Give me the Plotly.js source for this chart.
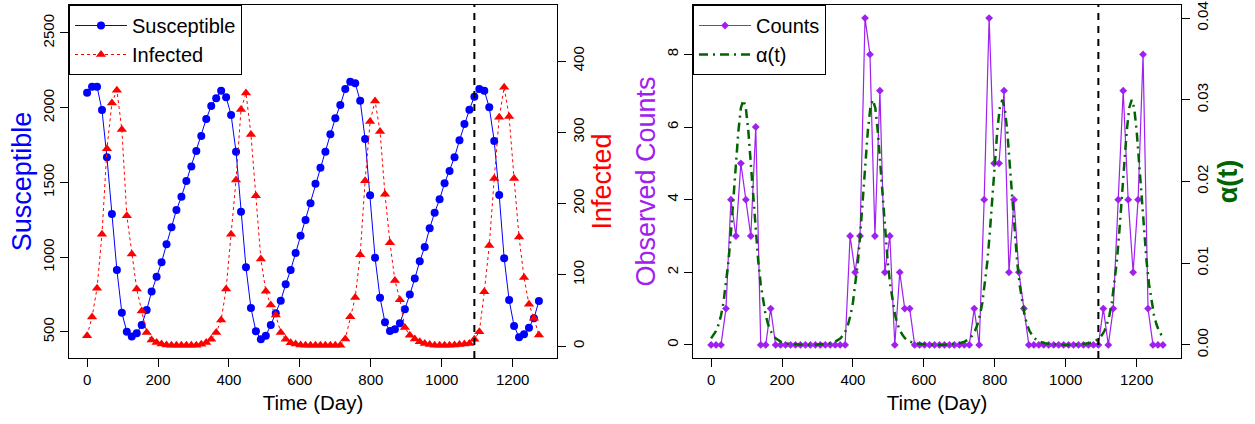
<!DOCTYPE html>
<html><head><meta charset="utf-8">
<script src="https://cdn.plot.ly/plotly-3.0.1.min.js"></script>
<style>html,body{margin:0;padding:0;background:#fff}#chart{width:1255px;height:424px}</style>
</head><body><div id="chart"></div>
<script>
// ---- data ----
const days = [0,14,28,42,56,70,84,98,112,126,140,154,168,182,196,210,224,238,252,266,280,294,308,322,336,350,364,378,392,406,420,434,448,462,476,490,504,518,532,546,560,574,588,602,616,630,644,658,672,686,700,714,728,742,756,770,784,798,812,826,840,854,868,882,896,910,924,938,952,966,980,994,1008,1022,1036,1050,1064,1078,1092,1106,1120,1134,1148,1162,1176,1190,1204,1218,1232,1246,1260,1274];

const susceptible = [2100,2141,2141,1985,1668,1289,915,629,502,469,491,547,647,770,870,966,1087,1200,1316,1405,1510,1606,1711,1811,1925,2012,2063,2114,2070,1952,1706,1305,933,660,505,451,475,547,625,709,819,915,1028,1144,1249,1361,1492,1599,1706,1822,1929,2018,2125,2174,2163,2047,1791,1414,997,729,565,507,518,558,652,750,857,973,1069,1194,1298,1388,1495,1577,1669,1782,1891,1987,2074,2125,2114,2003,1778,1416,993,714,540,465,485,529,592,707];

const infected = [14.5,40.7,81,157,277,341,359,304,183,129,80,49,19,8.4,5,3,1.5,1,1,1,1,1,1,2.5,5,9.4,19,36.5,80,157,233,332,355,297,211,122,77,57.5,43.5,19,9.4,4.7,2.8,1.6,1,1,1,1,1,1,1,1,9.8,41,68,128,232,315,344,301,213,145,92,65,26,15,10,6,3.7,2,1,1,1,1,1.3,2,2.8,3.7,9.4,20,76,141,235,321,363,322,235,153,96,58.5,39,15.4];

const counts = [0,0,0,1,4,3,5,4,3,6,0,0,1,0,0,0,0,0,0,0,0,0,0,0,0,0,0,0,3,2,3,9,8,3,7,2,3,0,2,1,1,0,0,0,0,0,0,0,0,0,0,0,0,1,0,4,9,5,5,7,2,4,2,1,0,0,0,0,0,0,0,0,0,0,0,0,0,0,0,1,0,1,4,7,4,2,4,8,1,0,0,0];

const alphaDays = [0,7,14,21,28,35,42,49,56,63,70,77,84,91,98,105,112,119,126,133,140,147,154,161,168,175,182,196,210,231,252,273,294,315,336,350,
365,372,379,386,393,400,407,414,421,428,435,442,449,456,463,470,477,484,491,498,505,512,519,526,533,540,547,561,575,596,617,638,659,680,701,715,
730,737,744,751,758,765,772,779,786,793,800,807,814,821,828,835,842,849,856,863,870,877,884,891,898,905,912,926,940,961,982,1003,1024,1045,1066,1080,
1095,1102,1109,1116,1123,1130,1137,1144,1151,1158,1165,1172,1179,1186,1193,1200,1207,1214,1221,1228,1235,1242,1249,1256,1263,1270,1277];
const alphaValues = [0.0008,0.0012,0.0017,0.0025,0.0036,0.0052,0.0074,0.0102,0.0138,0.0180,0.0222,0.0262,0.0290,0.0300,0.0290,0.0262,0.0222,0.0180,0.0138,0.0102,0.0074,0.0052,0.0036,0.0025,0.0017,0.0012,0.0008,0.0004,0.0002,0.0001,0.00003,0.0,0.00003,0.0001,0.0002,0.0004,
0.0008,0.0012,0.0017,0.0025,0.0036,0.0052,0.0074,0.0102,0.0138,0.0180,0.0222,0.0262,0.0290,0.0300,0.0290,0.0262,0.0222,0.0180,0.0138,0.0102,0.0074,0.0052,0.0036,0.0025,0.0017,0.0012,0.0008,0.0004,0.0002,0.0001,0.00003,0.0,0.00003,0.0001,0.0002,0.0004,
0.0008,0.0012,0.0017,0.0025,0.0036,0.0052,0.0074,0.0102,0.0138,0.0180,0.0222,0.0262,0.0290,0.0300,0.0290,0.0262,0.0222,0.0180,0.0138,0.0102,0.0074,0.0052,0.0036,0.0025,0.0017,0.0012,0.0008,0.0004,0.0002,0.0001,0.00003,0.0,0.00003,0.0001,0.0002,0.0004,
0.0008,0.0012,0.0017,0.0025,0.0036,0.0052,0.0074,0.0102,0.0138,0.0180,0.0222,0.0262,0.0290,0.0300,0.0290,0.0262,0.0222,0.0180,0.0138,0.0102,0.0074,0.0052,0.0036,0.0025,0.0017,0.0012,0.0008];

const cutoffDay = 1092;
const xTicks = [0,200,400,600,800,1000,1200];
const sTicks = [500,1000,1500,2000,2500];
const iTicks = [0,100,200,300,400];
const cTicks = [0,2,4,6,8];
const aTicks = [0,0.01,0.02,0.03,0.04];
const aTickText = ['0.00','0.01','0.02','0.03','0.04'];

// ---- styling ----
const FONT = 'Liberation Sans, Arial, Helvetica, sans-serif';
const tickFont = {family: FONT, size: 15, color: '#000'};
const baseAxis = {
  showgrid: false, zeroline: false, showline: true, linecolor: '#000', linewidth: 1,
  ticks: 'outside', ticklen: 8, tickcolor: '#000', tickwidth: 1, tickfont: tickFont
};

const traces = [
  {x: days, y: susceptible, name: 'Susceptible', type: 'scatter', mode: 'lines+markers',
   xaxis: 'x', yaxis: 'y', line: {color: '#0000FF', width: 1},
   marker: {symbol: 'circle', size: 8, color: '#0000FF'}},
  {x: days, y: infected, name: 'Infected', type: 'scatter', mode: 'lines+markers',
   xaxis: 'x', yaxis: 'y2', line: {color: '#FF0000', width: 1, dash: '3px,3px'},
   marker: {symbol: 'triangle-up', size: 9, color: '#FF0000'}},
  {x: days, y: counts, name: 'Counts', type: 'scatter', mode: 'lines+markers',
   xaxis: 'x2', yaxis: 'y3', legend: 'legend2', line: {color: '#A020F0', width: 1.2},
   marker: {symbol: 'diamond', size: 6, color: '#A020F0'}},
  {x: alphaDays, y: alphaValues, name: 'α(t)', type: 'scatter', mode: 'lines',
   xaxis: 'x2', yaxis: 'y4', legend: 'legend2',
   line: {color: '#006400', width: 2.5, dash: '9px,5px,2px,5px'}}
];

const W = 1255, L = 69, R = 74;
const PW = W - L - R;
const legendBase = {y: 1, xanchor: 'left', yanchor: 'top', bgcolor: '#fff', bordercolor: '#000', borderwidth: 1,
  font: {family: FONT, size: 20, color: '#000'}, itemwidth: 52};
const layout = {
  width: 1255, height: 424,
  margin: {l: L, r: R, t: 5, b: 66},
  paper_bgcolor: '#fff', plot_bgcolor: '#fff',
  font: {family: FONT, color: '#000'},
  xaxis: Object.assign({}, baseAxis, {domain: [0, 488/PW], range: [-51, 1325], tickvals: xTicks, mirror: true, anchor: 'y',
    title: {text: 'Time (Day)', font: {family: FONT, size: 20.5, color: '#000'}, standoff: 8}}),
  yaxis: Object.assign({}, baseAxis, {range: [326, 2687], tickvals: sTicks, tickangle: -90, mirror: true, anchor: 'x',
    title: {text: 'Susceptible', font: {family: FONT, size: 27, color: '#0000FF'}, standoff: 0}}),
  yaxis2: Object.assign({}, baseAxis, {range: [-16.8, 478.6], tickvals: iTicks, tickangle: -90, overlaying: 'y', side: 'right', anchor: 'x',
    title: {text: 'Infected', font: {family: FONT, size: 27, color: '#FF0000'}, standoff: 6}}),
  xaxis2: Object.assign({}, baseAxis, {domain: [624/PW, 1], range: [-51, 1325], tickvals: xTicks, mirror: true, anchor: 'y3',
    title: {text: 'Time (Day)', font: {family: FONT, size: 20.5, color: '#000'}, standoff: 8}}),
  yaxis3: Object.assign({}, baseAxis, {range: [-0.36, 9.36], tickvals: cTicks, tickangle: -90, mirror: true, anchor: 'x2',
    title: {text: 'Observed Counts', font: {family: FONT, size: 27, color: '#A020F0'}, standoff: 0}}),
  yaxis4: Object.assign({}, baseAxis, {range: [-0.0016, 0.0416], tickvals: aTicks, ticktext: aTickText, tickangle: -90, overlaying: 'y3', side: 'right', anchor: 'x2',
    title: {text: '<b>α(t)</b>', font: {family: FONT, size: 27, color: '#006400'}, standoff: 8}}),
  legend: Object.assign({}, legendBase, {x: 0}),
  legend2: Object.assign({}, legendBase, {x: 624/PW}),
  shapes: [
    {type: 'line', xref: 'x', yref: 'y domain', x0: cutoffDay, x1: cutoffDay, y0: 0, y1: 1,
     line: {color: '#000', width: 2, dash: '7px,6px'}},
    {type: 'line', xref: 'x2', yref: 'y3 domain', x0: cutoffDay, x1: cutoffDay, y0: 0, y1: 1,
     line: {color: '#000', width: 2, dash: '7px,6px'}}
  ],
  showlegend: true
};

Plotly.newPlot('chart', traces, layout, {displayModeBar: false, staticPlot: true});
</script>
</body></html>
